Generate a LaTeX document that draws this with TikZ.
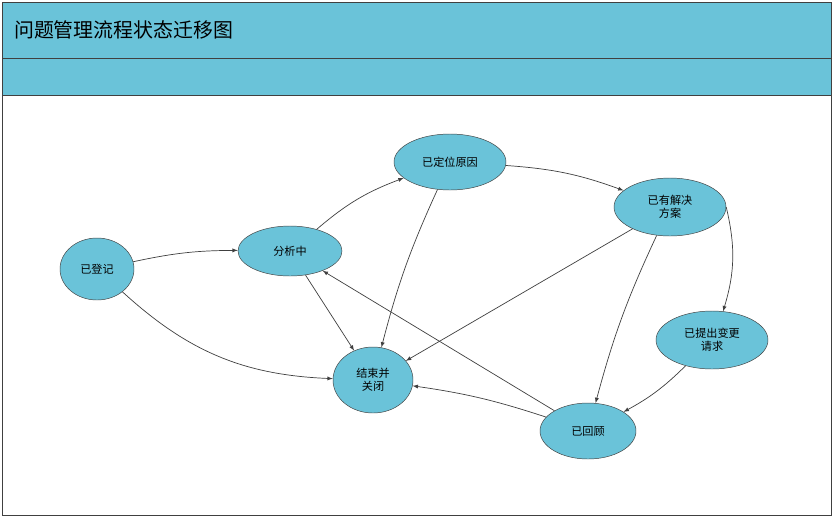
\documentclass[tikz,border=0pt]{standalone}
\usepackage{fontspec}
\setmainfont{Noto Sans CJK SC}
\usepackage{tikz}
\usetikzlibrary{shapes.geometric, arrows}
\definecolor{band}{HTML}{6AC3D9}
\definecolor{edge}{HTML}{404040}
\tikzstyle{state} = [ellipse, draw=edge, fill=band, inner sep=0pt, font=\fontsize{9.5}{11}\selectfont, align=center]
\tikzstyle{arrow} = [edge, ->, >=latex, line width=0.6pt]

\begin{document}
\begin{tikzpicture}[x=0.03cm, y=-0.03cm]
    \useasboundingbox (0,0) rectangle (834,518);
    % bands
    \draw[fill=white, draw=edge] (2,2) rectangle (831,515);
    \draw[fill=band, draw=edge] (2,2) rectangle (831,58);
    \draw[fill=band, draw=edge] (2,58) rectangle (831,95);
    \node[anchor=west, font=\fontsize{17}{20}\selectfont] (title) at (10,30) {问题管理流程状态迁移图};
    % states
    \node[state, minimum width=74*0.03cm, minimum height=62*0.03cm] (reg) at (97,269) {已登记};
    \node[state, minimum width=104*0.03cm, minimum height=50*0.03cm] (ana) at (290,251) {分析中};
    \node[state, minimum width=112*0.03cm, minimum height=56*0.03cm] (loc) at (450,162) {已定位原因};
    \node[state, minimum width=112*0.03cm, minimum height=58*0.03cm] (sol) at (670,207) {已有解决\\方案};
    \node[state, minimum width=112*0.03cm, minimum height=58*0.03cm] (req) at (712,340) {已提出变更\\请求};
    \node[state, minimum width=80*0.03cm, minimum height=66*0.03cm] (end) at (373,380) {结束并\\关闭};
    \node[state, minimum width=96*0.03cm, minimum height=56*0.03cm] (rev) at (588,431) {已回顾};
    % transitions
    \draw[arrow] (reg) to[bend left=6] (ana);
    \draw[arrow] (reg) to[bend right=20] (end);
    \draw[arrow] (ana) to[bend left=10] (loc);
    \draw[arrow] (ana) -- (end);
    \draw[arrow] (loc) to[bend left=8] (sol);
    \draw[arrow] (loc) to[bend right=5] (end);
    \draw[arrow] (sol) -- (end);
    \draw[arrow] (sol) to[bend right=5] (rev);
    \draw[arrow] (sol.east) to[bend left=15] (req);
    \draw[arrow] (req) to[bend left=8] (rev);
    \draw[arrow] (rev) to[bend right=5] (end);
    \draw[arrow] (rev) -- (ana);
\end{tikzpicture}
\end{document}
